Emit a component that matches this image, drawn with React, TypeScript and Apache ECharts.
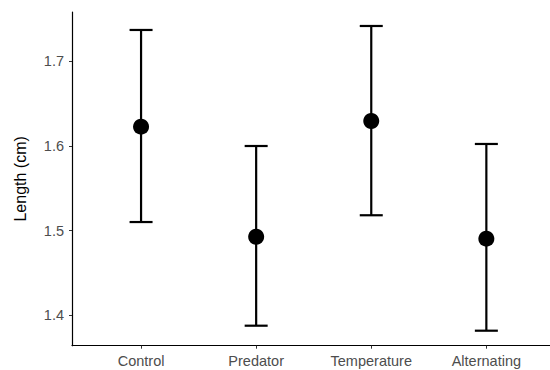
import React, { useEffect, useRef } from "react";
import * as echarts from "echarts";

const categories = ["Control", "Predator", "Temperature", "Alternating"];
const means = [1.6225, 1.4927, 1.6292, 1.4904];
const lower = [1.510, 1.3877, 1.518, 1.3818];
const upper = [1.7366, 1.5997, 1.7413, 1.6021];
const yTicks = [1.4, 1.5, 1.6, 1.7];

export default function App() {
  const ref = useRef<HTMLDivElement>(null);
  useEffect(() => {
    if (!ref.current) return;
    const chart = echarts.init(ref.current, null, { renderer: "svg" });
    const xs = categories.map((_, i) => i + 1);
    const errData = xs.map((x, i) => [x, lower[i], upper[i]]);
    const ptData = xs.map((x, i) => [x, means[i]]);
    const font = "'Liberation Sans', Arial, sans-serif";
    chart.setOption({
      animation: false,
      backgroundColor: "#ffffff",
      grid: { left: 72, top: 12, right: 0, bottom: 24.3, containLabel: false },
      xAxis: {
        type: "value",
        min: 0.4,
        max: 4.553,
        splitLine: { show: false },
        axisLine: { show: true, lineStyle: { color: "#000", width: 1.2 } },
        axisTick: { show: true, length: 3, customValues: xs, lineStyle: { color: "#333", width: 1 } },
        axisLabel: {
          customValues: xs,
          formatter: (v: number) => categories[Math.round(v) - 1] ?? "",
          color: "#4d4d4d",
          fontSize: 14.5,
          fontFamily: font,
          margin: 8,
        },
      },
      yAxis: {
        type: "value",
        min: 1.3641,
        max: 1.7578,
        name: "Length (cm)",
        nameLocation: "middle",
        nameGap: 44,
        nameTextStyle: { fontSize: 16, color: "#000", fontFamily: font },
        splitLine: { show: false },
        axisLine: { show: true, lineStyle: { color: "#000", width: 1.2 } },
        axisTick: { show: true, length: 3, customValues: yTicks, lineStyle: { color: "#333", width: 1 } },
        axisLabel: {
          customValues: yTicks,
          formatter: (v: number) => v.toFixed(1),
          color: "#4d4d4d",
          fontSize: 14.5,
          fontFamily: font,
          margin: 8,
        },
      },
      series: [
        {
          type: "custom",
          data: errData,
          renderItem: (params: any, api: any) => {
            const x = api.value(0);
            const lo = api.coord([x, api.value(1)]);
            const hi = api.coord([x, api.value(2)]);
            const hw = 11.5;
            const style = { stroke: "#000", lineWidth: 2.2 };
            return {
              type: "group",
              children: [
                { type: "line", shape: { x1: lo[0], y1: lo[1], x2: hi[0], y2: hi[1] }, style },
                { type: "line", shape: { x1: lo[0] - hw, y1: lo[1], x2: lo[0] + hw, y2: lo[1] }, style },
                { type: "line", shape: { x1: hi[0] - hw, y1: hi[1], x2: hi[0] + hw, y2: hi[1] }, style },
              ],
            };
          },
          z: 2,
        },
        {
          type: "scatter",
          data: ptData,
          symbol: "circle",
          symbolSize: 16,
          itemStyle: { color: "#000", opacity: 1 },
          z: 3,
        },
      ],
    });
    return () => chart.dispose();
  }, []);
  return (
    <div
      ref={ref}
      style={{ position: "fixed", left: 0, top: 0, width: 550, height: 370, background: "#fff" }}
    />
  );
}
